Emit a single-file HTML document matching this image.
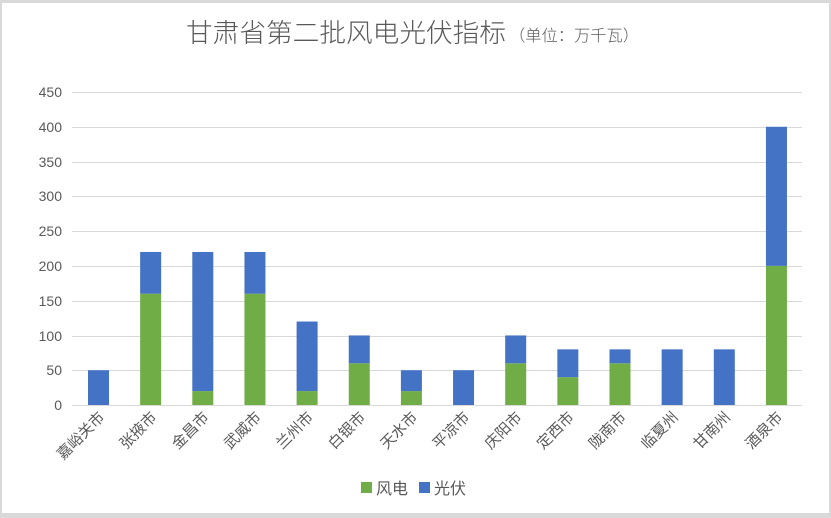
<!DOCTYPE html>
<html><head><meta charset="utf-8"><style>
body{margin:0;background:#d9d9d9;}
svg{display:block;font-family:"Liberation Sans","Noto Sans CJK SC",sans-serif;}
</style></head><body>
<svg width="831" height="518" xmlns="http://www.w3.org/2000/svg">
<rect x="0" y="0" width="831" height="518" fill="#d9d9d9"/>
<rect x="2" y="3" width="827" height="510" fill="#fff"/>
<text x="186" y="42" font-size="26" fill="#595959" font-family="Noto Sans CJK SC, sans-serif" font-weight="300" textLength="320" lengthAdjust="spacingAndGlyphs">甘肃省第二批风电光伏指标</text>
<text x="509" y="41" font-size="16" fill="#595959" font-family="Noto Sans CJK SC, sans-serif" font-weight="300" textLength="130" lengthAdjust="spacingAndGlyphs">（单位：万千瓦）</text>
<g id="grid" stroke="#d9d9d9" stroke-width="1">
<line x1="72" x2="802" y1="92.5" y2="92.5"/>
<line x1="72" x2="802" y1="127.5" y2="127.5"/>
<line x1="72" x2="802" y1="162.5" y2="162.5"/>
<line x1="72" x2="802" y1="196.5" y2="196.5"/>
<line x1="72" x2="802" y1="231.5" y2="231.5"/>
<line x1="72" x2="802" y1="266.5" y2="266.5"/>
<line x1="72" x2="802" y1="301.5" y2="301.5"/>
<line x1="72" x2="802" y1="336.5" y2="336.5"/>
<line x1="72" x2="802" y1="370.5" y2="370.5"/>
</g>
<g font-size="14" fill="#595959" text-anchor="end">
<text x="62" y="97">450</text><text x="62" y="132">400</text><text x="62" y="167">350</text>
<text x="62" y="201">300</text><text x="62" y="236">250</text><text x="62" y="271">200</text>
<text x="62" y="306">150</text><text x="62" y="341">100</text><text x="62" y="375">50</text>
<text x="62" y="410">0</text>
</g>
<g id="bars"></g>
<line x1="72" x2="802" y1="405.5" y2="405.5" stroke="#d9d9d9"/>
<g id="labels" font-size="15" fill="#595959" text-anchor="end"></g>
<rect x="361" y="482" width="11" height="11" fill="#70ad47"/>
<text x="376" y="494" font-size="16" fill="#595959">风电</text>
<rect x="419" y="482" width="11" height="11" fill="#4472c4"/>
<text x="434" y="494" font-size="16" fill="#595959">光伏</text>
<script>
var d=[["嘉峪关市",0,50],["张掖市",160,60],["金昌市",20,200],["武威市",160,60],["兰州市",20,100],["白银市",60,40],["天水市",20,30],["平凉市",0,50],["庆阳市",60,40],["定西市",40,40],["陇南市",60,20],["临夏州",0,80],["甘南州",0,80],["酒泉市",200,200]];
var ns="http://www.w3.org/2000/svg",b=document.getElementById("bars"),l=document.getElementById("labels");
var k=313/450;
d.forEach(function(r,i){
 var c=98.5+i*52.15,x=c-10.5;
 var hw=r[1]*k,hs=r[2]*k;
 if(hw){var e=document.createElementNS(ns,"rect");e.setAttribute("x",x);e.setAttribute("width",21);e.setAttribute("y",405-hw);e.setAttribute("height",hw);e.setAttribute("fill","#70ad47");b.appendChild(e);}
 var s=document.createElementNS(ns,"rect");s.setAttribute("x",x);s.setAttribute("width",21);s.setAttribute("y",405-hw-hs);s.setAttribute("height",hs);s.setAttribute("fill","#4472c4");b.appendChild(s);
 var t=document.createElementNS(ns,"text");t.setAttribute("transform","translate("+(c+7)+",418) rotate(-45)");t.textContent=r[0];l.appendChild(t);
});
</script>
</svg>
</body></html>
